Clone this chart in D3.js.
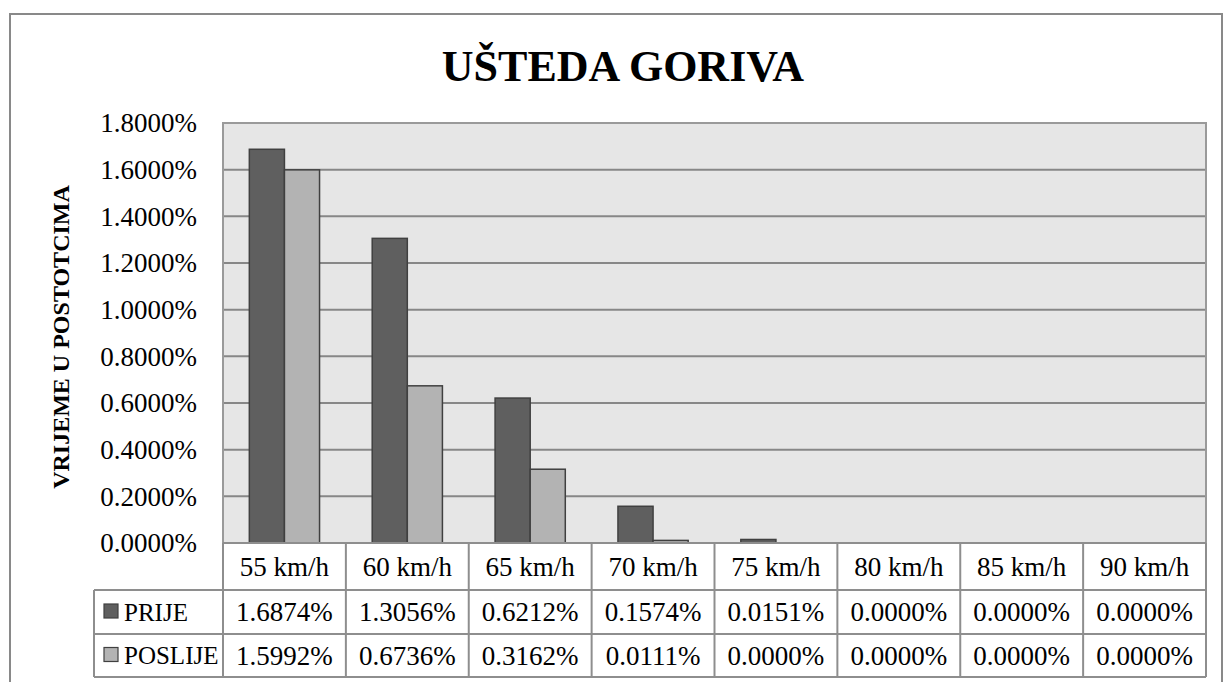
<!DOCTYPE html>
<html>
<head>
<meta charset="utf-8">
<script src="https://cdnjs.cloudflare.com/ajax/libs/d3/7.8.5/d3.min.js"></script>
<style>
body { margin: 0; background: #fff; }
svg text { font-family: "Liberation Serif", "Times New Roman", serif; fill: #000; }
</style>
</head>
<body>
<div id="chart"></div>
<script>
// data (percent)
var categories = ["55 km/h", "60 km/h", "65 km/h", "70 km/h", "75 km/h", "80 km/h", "85 km/h", "90 km/h"];
var seriesNames = ["PRIJE", "POSLIJE"];
var prije = [1.6874, 1.3056, 0.6212, 0.1574, 0.0151, 0.0000, 0.0000, 0.0000];
var poslije = [1.5992, 0.6736, 0.3162, 0.0111, 0.0000, 0.0000, 0.0000, 0.0000];
var yTicks = [0, 0.2, 0.4, 0.6, 0.8, 1.0, 1.2, 1.4, 1.6, 1.8];

var colors = ["#5f5f5f", "#b3b3b3"];
var series = [prije, poslije];
var serif = "'Liberation Serif', 'Times New Roman', serif";

var svgWidth = 1223;
var svgHeight = 682;

var plot = { left: 223, top: 123, right: 1206, bottom: 543 };
var rowH = [47, 44, 43];

var svg = d3.select("#chart")
    .append("svg")
    .attr("width", svgWidth)
    .attr("height", svgHeight)
    .attr("font-family", serif);

// outer chart frame (bottom runs off the picture)
svg.append("rect")
    .attr("x", 10).attr("y", 14)
    .attr("width", 1212).attr("height", 700)
    .attr("fill", "#fff")
    .attr("stroke", "#898989")
    .attr("stroke-width", 2);

svg.append("text")
    .attr("x", 623)
    .attr("y", 81)
    .attr("text-anchor", "middle")
    .style("font-family", serif)
    .style("font-size", "44px")
    .style("font-weight", "bold")
    .text("UŠTEDA GORIVA");

var x = d3.scaleBand()
    .domain(categories)
    .range([plot.left, plot.right]);

var y = d3.scaleLinear()
    .domain([0, 1.8])
    .range([plot.bottom, plot.top]);

// plot background
svg.append("rect")
    .attr("x", plot.left).attr("y", plot.top)
    .attr("width", plot.right - plot.left)
    .attr("height", plot.bottom - plot.top)
    .attr("fill", "#e6e6e6");

// gridlines
svg.append("g")
    .selectAll("line")
    .data(yTicks.slice(1))
    .enter()
    .append("line")
    .attr("x1", plot.left).attr("x2", plot.right)
    .attr("y1", d => y(d)).attr("y2", d => y(d))
    .attr("stroke", "#878787")
    .attr("stroke-width", 2);

svg.append("rect")
    .attr("x", plot.left).attr("y", plot.top)
    .attr("width", plot.right - plot.left)
    .attr("height", plot.bottom - plot.top)
    .attr("fill", "none")
    .attr("stroke", "#9a9a9a")
    .attr("stroke-width", 2);

// bars
var gap = 1.5;
var barW = x.bandwidth() / (2 + gap);

series.forEach(function(vals, si) {
    svg.append("g")
        .selectAll("rect")
        .data(vals)
        .enter()
        .append("rect")
        .attr("x", (d, i) => x(categories[i]) + barW * gap / 2 + si * barW)
        .attr("y", d => y(d))
        .attr("width", barW)
        .attr("height", d => y(0) - y(d))
        .attr("fill", colors[si])
        .attr("stroke", "#404040")
        .attr("stroke-width", 1.5)
        .style("display", d => d > 0 ? null : "none");
});

// y axis labels
var yAxis = d3.axisLeft(y)
    .tickValues(yTicks)
    .tickSize(0)
    .tickPadding(26)
    .tickFormat(d => d.toFixed(4) + "%");

var yg = svg.append("g")
    .attr("transform", "translate(" + plot.left + ",0)")
    .call(yAxis)
    .attr("font-family", serif);
yg.select(".domain").remove();
yg.selectAll("text")
    .style("font-family", serif)
    .style("font-size", "27px")
    .attr("dy", "0.33em");

svg.append("text")
    .attr("transform", "translate(69," + 337 + ") rotate(-90)")
    .attr("text-anchor", "middle")
    .style("font-family", serif)
    .style("font-size", "24px")
    .style("font-weight", "bold")
    .text("VRIJEME U POSTOTCIMA");

// data table
var legendLeft = 94;
var y0 = plot.bottom;
var y1 = y0 + rowH[0];
var y2 = y1 + rowH[1];
var y3 = y2 + rowH[2];
var lineColor = "#8e8e8e";

var tbl = svg.append("g");

// horizontal lines
[[plot.left, plot.right, y0], [legendLeft, plot.right, y1], [legendLeft, plot.right, y2], [legendLeft, plot.right, y3]]
    .forEach(function(l) {
        tbl.append("line")
            .attr("x1", l[0]).attr("x2", l[1])
            .attr("y1", l[2]).attr("y2", l[2])
            .attr("stroke", lineColor).attr("stroke-width", 2);
    });

// vertical lines
tbl.append("line")
    .attr("x1", legendLeft).attr("x2", legendLeft)
    .attr("y1", y1).attr("y2", y3)
    .attr("stroke", lineColor).attr("stroke-width", 2);

tbl.selectAll("line.v")
    .data(categories.concat(["end"]))
    .enter()
    .append("line")
    .attr("class", "v")
    .attr("x1", (d, i) => plot.left + i * x.step())
    .attr("x2", (d, i) => plot.left + i * x.step())
    .attr("y1", y0).attr("y2", y3)
    .attr("stroke", lineColor).attr("stroke-width", 2);

tbl.selectAll("text.cat")
    .data(categories)
    .enter()
    .append("text")
    .attr("class", "cat")
    .attr("x", d => x(d) + x.bandwidth() / 2)
    .attr("y", y0 + rowH[0] / 2)
    .attr("dy", "0.35em")
    .attr("text-anchor", "middle")
    .style("font-family", serif)
    .style("font-size", "27px")
    .text(d => d);

var rowTops = [y1, y2];
series.forEach(function(vals, si) {
    var ry = rowTops[si] + rowH[si + 1] / 2;
    tbl.append("rect")
        .attr("x", 104).attr("y", ry - 8)
        .attr("width", 14).attr("height", 14)
        .attr("fill", colors[si])
        .attr("stroke", "#404040")
        .attr("stroke-width", 1.2);
    tbl.append("text")
        .attr("x", 124)
        .attr("y", ry)
        .attr("dy", "0.35em")
        .style("font-family", serif)
        .style("font-size", "25px")
        .text(seriesNames[si]);
    tbl.selectAll("text.s" + si)
        .data(vals)
        .enter()
        .append("text")
        .attr("x", (d, i) => x(categories[i]) + x.bandwidth() / 2)
        .attr("y", ry)
        .attr("dy", "0.35em")
        .attr("text-anchor", "middle")
        .style("font-family", serif)
        .style("font-size", "27px")
        .text(d => d.toFixed(4) + "%");
});
</script>
</body>
</html>
